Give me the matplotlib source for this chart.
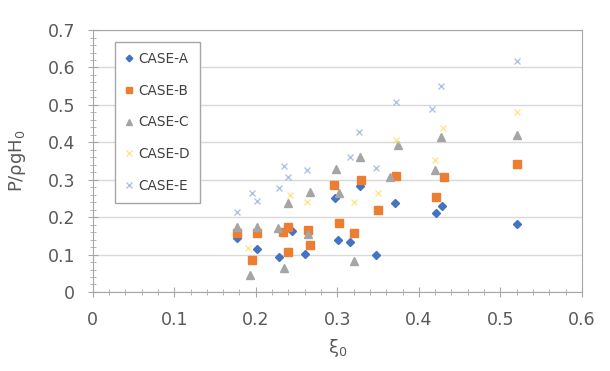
import numpy as np
import matplotlib.pyplot as plt
from matplotlib.ticker import MultipleLocator

# pressure ratio vs breaker parameter, five test cases
xi_a = [0.177, 0.201, 0.229, 0.244, 0.260, 0.297, 0.301, 0.315, 0.328, 0.348, 0.371, 0.421, 0.428, 0.520]
p_a = [0.144, 0.115, 0.094, 0.163, 0.102, 0.251, 0.139, 0.134, 0.283, 0.099, 0.238, 0.211, 0.230, 0.182]

xi_b = [0.177, 0.195, 0.202, 0.233, 0.239, 0.239, 0.264, 0.266, 0.296, 0.302, 0.321, 0.329, 0.350, 0.372, 0.421, 0.431, 0.520]
p_b = [0.158, 0.086, 0.158, 0.160, 0.174, 0.107, 0.166, 0.126, 0.286, 0.184, 0.158, 0.299, 0.219, 0.310, 0.254, 0.307, 0.342]

xi_c = [0.177, 0.193, 0.201, 0.227, 0.234, 0.239, 0.264, 0.266, 0.298, 0.302, 0.320, 0.328, 0.364, 0.375, 0.420, 0.427, 0.520]
p_c = [0.174, 0.045, 0.174, 0.171, 0.064, 0.238, 0.155, 0.267, 0.329, 0.265, 0.083, 0.361, 0.307, 0.393, 0.326, 0.414, 0.420]

xi_d = [0.190, 0.242, 0.263, 0.321, 0.350, 0.372, 0.420, 0.429, 0.520]
p_d = [0.118, 0.259, 0.241, 0.241, 0.265, 0.406, 0.353, 0.438, 0.481]

xi_e = [0.177, 0.195, 0.201, 0.229, 0.234, 0.240, 0.263, 0.315, 0.326, 0.348, 0.372, 0.416, 0.427, 0.520]
p_e = [0.214, 0.265, 0.243, 0.278, 0.337, 0.307, 0.326, 0.361, 0.428, 0.332, 0.508, 0.489, 0.551, 0.618]

fig = plt.figure(figsize=(6.1, 3.71), dpi=100)
ax = fig.add_axes([0.152, 0.213, 0.802, 0.706])

ax.plot(xi_a, p_a, 'D', ms=4.5, color='#4472C4', label='CASE-A')
ax.plot(xi_b, p_b, 's', ms=6, color='#ED7D31', label='CASE-B')
ax.plot(xi_c, p_c, '^', ms=5.5, color='#A5A5A5', label='CASE-C')
ax.plot(xi_d, p_d, 'x', ms=5, mew=1, color='#FFD966', alpha=0.7, label='CASE-D')
ax.plot(xi_e, p_e, 'x', ms=5, mew=1, color='#9DB4DE', alpha=0.8, label='CASE-E')

ax.set_xlim(0, 0.6)
ax.set_ylim(0, 0.7)
ax.xaxis.set_major_locator(MultipleLocator(0.1))
ax.xaxis.set_minor_locator(MultipleLocator(0.02))
ax.yaxis.set_major_locator(MultipleLocator(0.1))
ax.yaxis.set_minor_locator(MultipleLocator(0.02))
ax.xaxis.set_major_formatter(lambda v, pos: '0' if abs(v) < 1e-9 else f'{v:.1f}')
ax.yaxis.set_major_formatter(lambda v, pos: '0' if abs(v) < 1e-9 else f'{v:.1f}')

ax.grid(axis='y', which='major', color='#D9D9D9', lw=1)
ax.set_axisbelow(True)
for s in ax.spines.values():
    s.set_color('#A6A6A6')
ax.tick_params(which='both', direction='inout', colors='#A6A6A6', labelcolor='#595959',
               labelsize=12.5, top=False, right=False)
ax.tick_params(which='major', length=7)
ax.tick_params(which='minor', length=5)
ax.tick_params(axis='x', pad=10)
ax.tick_params(axis='y', pad=9)

ax.set_xlabel('ξ$_0$', fontsize=13, color='#595959', labelpad=6)
ax.set_ylabel('P/ρgH$_0$', fontsize=13, color='#595959', labelpad=14)

leg = ax.legend(loc='upper left', bbox_to_anchor=(0.045, 0.955), fontsize=9.8,
                labelspacing=1.3, handlelength=0.6, handletextpad=0.35, markerscale=0.75,
                borderpad=0.75, fancybox=False, framealpha=1, borderaxespad=0)
leg.get_frame().set_edgecolor('#A6A6A6')
for t in leg.get_texts():
    t.set_color('#404040')

fig.savefig('out.png', dpi=100)
